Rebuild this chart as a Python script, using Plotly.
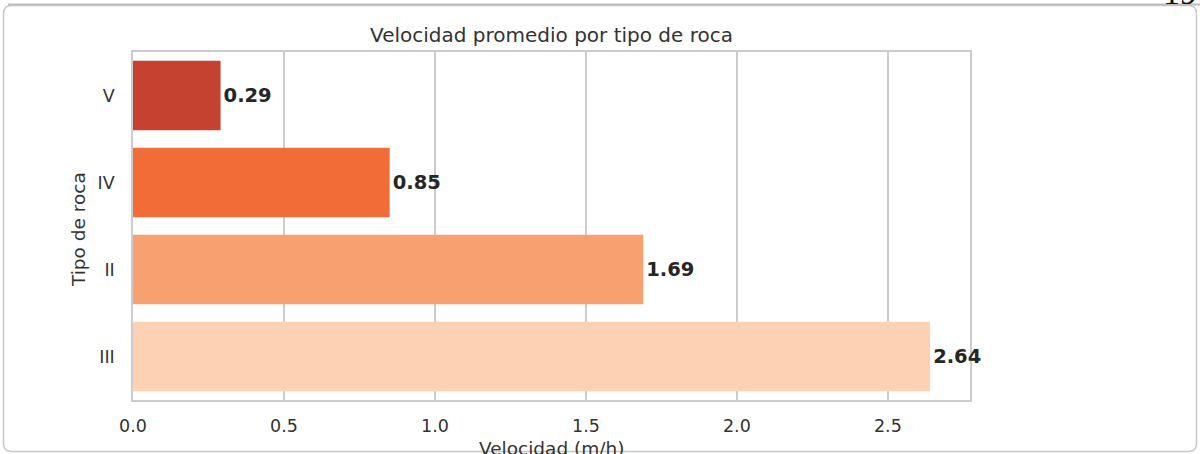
import plotly.graph_objects as go

# Average drilling speed by rock type
rock_types = ["V", "IV", "II", "III"]
speeds = [0.29, 0.85, 1.69, 2.64]
bar_colors = ["#c4422f", "#f16c36", "#f8a070", "#fcd1b4"]
x_ticks = [0.0, 0.5, 1.0, 1.5, 2.0, 2.5]
x_tick_labels = ["0.0", "0.5", "1.0", "1.5", "2.0", "2.5"]

W, H = 1200, 454
L, R, T, B = 133, 230, 52, 54
pw, ph = W - L - R, H - T - B


def px_x(p):
    return (p - L) / pw


def px_y(p):
    return 1 - (p - T) / ph


fig = go.Figure(
    go.Bar(
        x=speeds,
        y=rock_types,
        orientation="h",
        width=0.8,
        marker=dict(color=bar_colors, line=dict(width=0)),
        text=[f"<b>{v:.2f}</b>" for v in speeds],
        textposition="outside",
        textfont=dict(family="DejaVu Sans", size=19.5, color="#262626"),
        cliponaxis=False,
        hoverinfo="skip",
    )
)

# rounded card outline around the figure
x0, x1 = px_x(3.5), px_x(1196.5)
y0, y1 = px_y(451.5), px_y(5.5)
rx, ry = 8 / pw, 8 / ph
card_path = (
    f"M {x0 + rx},{y1} L {x1 - rx},{y1} Q {x1},{y1} {x1},{y1 - ry} "
    f"L {x1},{y0 + ry} Q {x1},{y0} {x1 - rx},{y0} "
    f"L {x0 + rx},{y0} Q {x0},{y0} {x0},{y0 + ry} "
    f"L {x0},{y1 - ry} Q {x0},{y1} {x0 + rx},{y1} Z"
)
fig.add_shape(type="path", path=card_path, xref="paper", yref="paper",
              line=dict(color="#c8c8c8", width=1.5), layer="below")
fig.add_shape(type="line", xref="paper", yref="paper",
              x0=px_x(8), x1=px_x(1200), y0=px_y(4.5), y1=px_y(4.5),
              line=dict(color="#bdbdbd", width=2))

fig.add_annotation(text="19", xref="paper", yref="paper",
                   x=px_x(1161), y=px_y(13), xanchor="left", yanchor="bottom",
                   showarrow=False,
                   font=dict(family="Liberation Serif", size=34, color="#111111"))

# axis titles
fig.add_annotation(text="Tipo de roca", xref="paper", yref="paper",
                   x=px_x(78), y=px_y(230), xanchor="center", yanchor="middle",
                   textangle=-90, showarrow=False,
                   font=dict(family="DejaVu Sans", size=18.5, color="#333333"))
fig.add_annotation(text="Velocidad (m/h)", xref="paper", yref="paper",
                   x=px_x(551.5), y=px_y(436), xanchor="center", yanchor="top",
                   showarrow=False,
                   font=dict(family="DejaVu Sans", size=18.5, color="#333333"))

fig.update_layout(
    width=W,
    height=H,
    margin=dict(l=L, r=R, t=T, b=B),
    paper_bgcolor="white",
    plot_bgcolor="white",
    showlegend=False,
    font=dict(family="DejaVu Sans", color="#333333"),
    title=dict(
        text="Velocidad promedio por tipo de roca",
        x=551.5 / W, xanchor="center",
        y=1 - 35 / H, yanchor="middle",
        font=dict(size=20, color="#333333"),
    ),
    xaxis=dict(
        range=[0, 2.772],
        tickvals=x_ticks,
        ticktext=x_tick_labels,
        tickfont=dict(size=17.5, color="#333333"),
        showgrid=True,
        gridcolor="#cccccc",
        gridwidth=1.5,
        zeroline=False,
        showline=True,
        linecolor="#cccccc",
        linewidth=1.5,
        mirror=True,
        ticks="",
        ticklabelstandoff=9,
        automargin=False,
        layer="below traces",
    ),
    yaxis=dict(
        categoryorder="array",
        categoryarray=rock_types,
        autorange="reversed",
        tickfont=dict(size=17.5, color="#333333"),
        showgrid=False,
        zeroline=False,
        showline=True,
        linecolor="#cccccc",
        linewidth=1.5,
        mirror=True,
        ticks="",
        ticklabelstandoff=13,
        automargin=False,
        layer="below traces",
    ),
)

fig.write_html("out.html")
